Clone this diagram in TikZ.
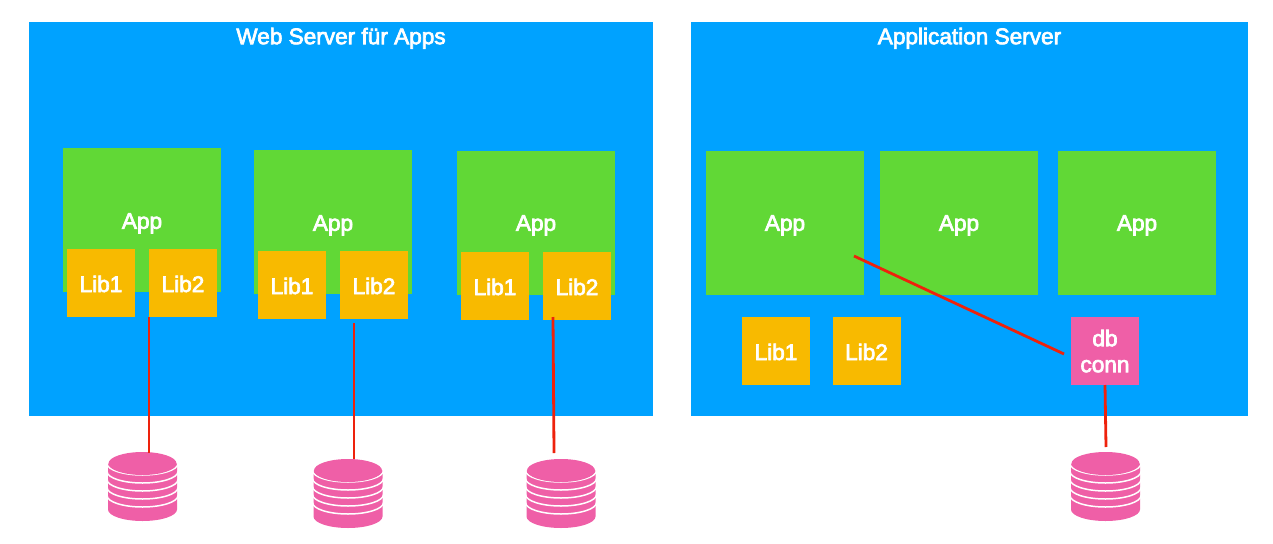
\documentclass[tikz,border=0pt]{standalone}
\usepackage{fontspec}
\setmainfont[FakeBold=3]{Liberation Sans}
\usetikzlibrary{positioning, shapes.geometric}
\definecolor{serverblue}{HTML}{00A2FF}
\definecolor{appgreen}{HTML}{61D836}
\definecolor{libyellow}{HTML}{F8BA00}
\definecolor{dbpink}{HTML}{EF5FA7}
\definecolor{linkred}{HTML}{EE220C}
\tikzset{
    boxtext/.style={text=white, font=\fontsize{22.6}{26}\selectfont, inner sep=0pt, outer sep=0pt, align=center, text depth=0pt},
    server/.style={boxtext, fill=serverblue, minimum width=#1, minimum height=393.5pt, anchor=north west},
    appbox/.style={boxtext, fill=appgreen, minimum width=158pt, minimum height=144pt, anchor=north west},
    libbox/.style={boxtext, fill=libyellow, minimum width=68pt, minimum height=68pt, anchor=north west, text height=18pt},
    connbox/.style={boxtext, fill=dbpink, minimum width=68pt, minimum height=68pt, anchor=north west},
    dbtop/.style={fill=dbpink, ellipse, inner sep=0pt, outer sep=0pt, minimum width=68pt, minimum height=23pt},
    link/.style={draw=linkred, line width=2.8pt},
}
% pink cylinder with white rings, the top ellipse gets the name
\newcommand{\dbstack}[3]{
    \fill[dbpink] (#2-34.5, #3) -- (#2-34.5, #3+46) arc (180:360:34.5pt and 11.5pt) -- (#2+34.5, #3) -- cycle;
    \foreach \i in {0,...,4}
        \draw[white, line width=1.5pt] (#2-35.5, #3+8*\i) arc (180:360:35.5pt and 11.5pt);
    \node[dbtop] (#1) at (#2, #3) {};
}
\begin{document}
\begin{tikzpicture}[x=1pt, y=-1pt]
    \useasboundingbox (0,0) rectangle (1273,543);

    % servers
    \node[server=624pt] (web) at (29,22) {};
    \node[server=557pt] (appsrv) at (691,22) {};
    \node[boxtext] (webtitle) at (341,36) {Web Server für Apps};
    \node[boxtext] (apptitle) at (969.5,36) {Application Server};

    % apps on the web server
    \node[appbox] (app1) at (63,148) {};
    \node[appbox] (app2) at (254,150) {};
    \node[appbox] (app3) at (457,151) {};
    \node[boxtext] (app1t) at (142,221) {App};
    \node[boxtext] (app2t) at (333,223) {App};
    \node[boxtext] (app3t) at (536,223) {App};

    \node[libbox] (a1lib1) at (67,249) {Lib1};
    \node[libbox, right=14pt of a1lib1.north east, anchor=north west] (a1lib2) {Lib2};
    \node[libbox] (a2lib1) at (258,251) {Lib1};
    \node[libbox, right=14pt of a2lib1.north east, anchor=north west] (a2lib2) {Lib2};
    \node[libbox] (a3lib1) at (461,252) {Lib1};
    \node[libbox, right=14pt of a3lib1.north east, anchor=north west] (a3lib2) {Lib2};

    % apps on the application server
    \node[appbox] (app4) at (706,151) {App};
    \node[appbox] (app5) at (880,151) {App};
    \node[appbox] (app6) at (1058,151) {App};
    \node[libbox] (srvlib1) at (742,317) {Lib1};
    \node[libbox] (srvlib2) at (832.5,317) {Lib2};
    \node[connbox] (conn) at (1071,317) {db\\conn};

    % databases
    \dbstack{db1}{142.5}{463.5}
    \dbstack{db2}{348}{470.5}
    \dbstack{db3}{561}{470.5}
    \dbstack{db4}{1105.5}{463.5}

    % free ends of the lines
    \coordinate (c1) at (149,317);
    \coordinate (d1) at (149,453);
    \coordinate (c2) at (354,323);
    \coordinate (d2) at (354,459);
    \coordinate (c3) at (553,317);
    \coordinate (d3) at (554,453);
    \coordinate (c4) at (854,256);
    \coordinate (c5) at (1064,354);
    \coordinate (d4) at (1106,447);

    \draw[link] (c1) -- (d1);
    \draw[link] (c2) -- (d2);
    \draw[link] (c3) -- (d3);
    \draw[link] (c4) -- (c5);
    \draw[link] (conn.south) -- (d4);
\end{tikzpicture}
\end{document}
